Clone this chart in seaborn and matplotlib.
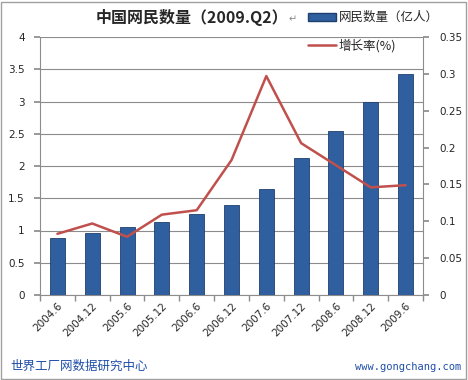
import matplotlib
matplotlib.use("Agg")
import matplotlib.pyplot as plt
import seaborn as sns
import pandas as pd
from matplotlib.patches import Rectangle, Patch
from matplotlib.lines import Line2D

periods = ["2004.6", "2004.12", "2005.6", "2005.12", "2006.6", "2006.12",
           "2007.6", "2007.12", "2008.6", "2008.12", "2009.6"]
users = [0.89, 0.96, 1.05, 1.13, 1.25, 1.39, 1.64, 2.12, 2.55, 3.00, 3.43]
growth = [0.083, 0.097, 0.079, 0.109, 0.115, 0.183, 0.297, 0.206, 0.176, 0.146, 0.149]
left_ticks = [0, 0.5, 1, 1.5, 2, 2.5, 3, 3.5, 4]
right_ticks = [0, 0.05, 0.1, 0.15, 0.2, 0.25, 0.3, 0.35]

df = pd.DataFrame({"period": periods, "users": users, "growth": growth})

sns.set_theme(style="white")
plt.rcParams['font.family'] = ['Noto Sans CJK SC', 'DejaVu Sans']

fig = plt.figure(figsize=(4.68, 3.80), dpi=100)
fig.patch.set_facecolor("white")
ax = fig.add_axes([40/468, 1-295/380, (423-40)/468, (295-37)/380])

bar_col = "#2F5F9E"
sns.barplot(data=df, x="period", y="users", ax=ax, color=bar_col,
            width=0.43, saturation=1, edgecolor="#1F3F6E", linewidth=0.6, zorder=3)
ax.set_ylim(0, 4)
ax.set_yticks(left_ticks)
ax.set_yticklabels(["0", "0.5", "1", "1.5", "2", "2.5", "3", "3.5", "4"],
                   fontsize=7.5, family="DejaVu Sans")
ax.grid(axis="y", color="#8C8C8C", linewidth=0.8, zorder=0)
ax.set_axisbelow(True)
ax.set_xlabel("")
ax.set_ylabel("")
ax.set_xlim(-0.5, len(periods) - 0.5)
for s in ["top", "right"]:
    ax.spines[s].set_visible(False)
for s in ["left", "bottom"]:
    ax.spines[s].set_color("#8C8C8C")
    ax.spines[s].set_linewidth(0.8)
ax.set_xticks(range(len(periods)))
ax.set_xticklabels(periods, rotation=45, ha="right", rotation_mode="anchor",
                   fontsize=7.5, family="DejaVu Sans")
ax.tick_params(axis="x", length=0, pad=4)
ax.tick_params(axis="y", length=4, color="#8C8C8C", direction="out", left=True, pad=7)
ax.set_xticks([i - 0.5 for i in range(len(periods) + 1)], minor=True)
ax.tick_params(axis="x", which="minor", length=4, color="#8C8C8C", direction="out", bottom=True)

ax2 = ax.twinx()
sns.lineplot(data=df, x="period", y="growth", ax=ax2, color="#C0504D",
             linewidth=1.8, sort=False, zorder=4)
ax2.set_ylim(0, 0.35)
ax2.set_yticks(right_ticks)
ax2.set_yticklabels(["0", "0.05", "0.1", "0.15", "0.2", "0.25", "0.3", "0.35"],
                    fontsize=7.5, family="DejaVu Sans")
ax2.set_ylabel("")
ax2.set_xlabel("")
ax2.set_xlim(-0.5, len(periods) - 0.5)
for s in ["top", "left", "bottom"]:
    ax2.spines[s].set_visible(False)
ax2.spines["right"].set_color("#8C8C8C")
ax2.spines["right"].set_linewidth(0.8)
ax2.tick_params(axis="y", length=4, color="#8C8C8C", direction="out", right=True, pad=8)

fig.text(0.205, 0.955, "中国网民数量（2009.Q2）", fontsize=11.5, fontweight="bold",
         ha="left", va="center")
fig.text(0.617, 0.948, "↵", fontsize=7, color="#888888", ha="left", va="center")

handles = [Patch(facecolor=bar_col, edgecolor="#1F3F6E"),
           Line2D([0], [0], color="#C0504D", linewidth=1.8)]
fig.legend(handles, ["网民数量（亿人）", "增长率(%)"], loc="upper left",
           bbox_to_anchor=(0.635, 1.0), frameon=False, fontsize=9,
           handlelength=2.2, handleheight=0.6, handletextpad=0.2, labelspacing=1.15)

fig.text(0.022, 0.035, "世界工厂网数据研究中心", fontsize=9, color="#1F4FA8",
         ha="left", va="center")
fig.text(0.985, 0.035, "www.gongchang.com", fontsize=7.5, color="#1F4FA8",
         ha="right", va="center", family="DejaVu Sans Mono")

fig.patches.append(Rectangle((0.002, 0.003), 0.994, 0.993, transform=fig.transFigure,
                             fill=False, edgecolor="#A0A0A0", linewidth=1.0))

fig.savefig("out.png", dpi=100, facecolor="white")
